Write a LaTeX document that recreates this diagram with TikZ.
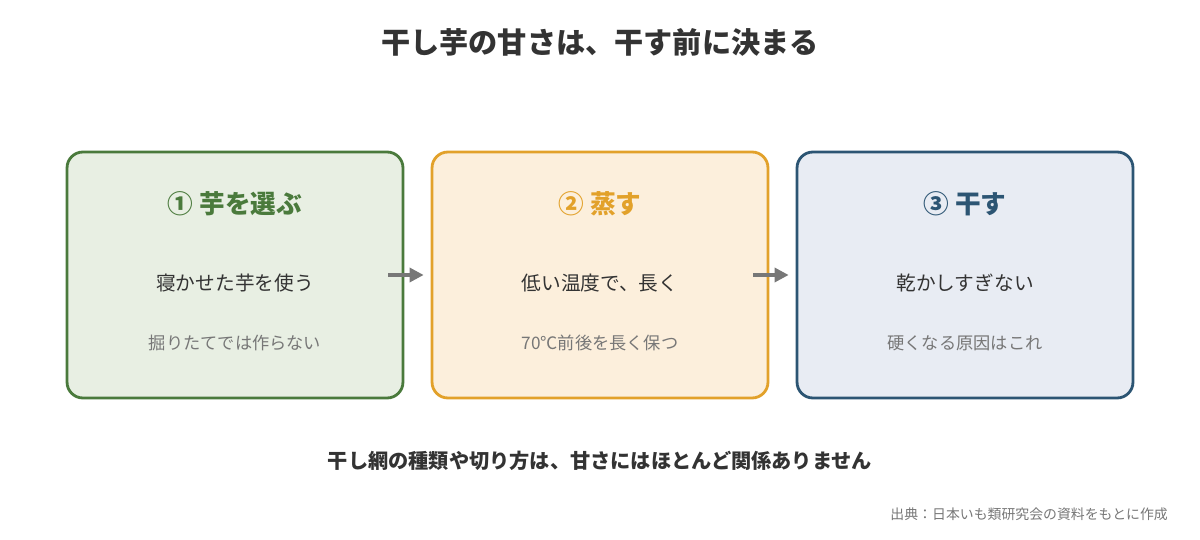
\documentclass[tikz,border=0pt]{standalone}
\usepackage{fontspec}
\setmainfont{Noto Sans CJK JP}
\usetikzlibrary{positioning,arrows.meta}
\definecolor{txt}{HTML}{333333}
\definecolor{subtxt}{HTML}{777777}
\definecolor{grn}{HTML}{4A7A3C}
\definecolor{grnbg}{HTML}{E8EFE3}
\definecolor{org}{HTML}{E2A12A}
\definecolor{orgbg}{HTML}{FCEFDC}
\definecolor{blu}{HTML}{2C5573}
\definecolor{blubg}{HTML}{E8ECF3}
\definecolor{arrgray}{HTML}{777777}
\begin{document}
\begin{tikzpicture}[x=0.02cm,y=-0.02cm,
    stepbox/.style={draw, line width=1.6pt, rounded corners=9pt, minimum width=6.72cm, minimum height=4.92cm},
    head/.style={font=\fontsize{14.6}{18}\selectfont\bfseries},
    main/.style={font=\fontsize{11.2}{14}\selectfont, text=txt},
    sub/.style={font=\fontsize{9.8}{12}\selectfont, text=subtxt},
    arr/.style={draw=arrgray, line width=1.9pt, -{Triangle[length=8pt,width=8pt]}, shorten <=-0.32cm, shorten >=0.14cm}]
    \useasboundingbox (0,0) rectangle (1200,540);
    \node[font=\fontsize{16.6}{20}\selectfont\bfseries, text=txt] (title) at (600,42) {干し芋の甘さは、干す前に決まる};
    % three steps
    \node[stepbox, draw=grn, fill=grnbg] (b1) at (235,275) {};
    \node[stepbox, draw=org, fill=orgbg] (b2) at (600,275) {};
    \node[stepbox, draw=blu, fill=blubg] (b3) at (965,275) {};
    \node[head, text=grn] (h1) at (235,204) {① 芋を選ぶ};
    \node[head, text=org] (h2) at (600,204) {② 蒸す};
    \node[head, text=blu] (h3) at (965,204) {③ 干す};
    \node[main] (m1) at (235,283) {寝かせた芋を使う};
    \node[main] (m2) at (600,283) {低い温度で、長く};
    \node[main] (m3) at (965,283) {乾かしすぎない};
    \node[sub] (s1) at (235,343) {掘りたてでは作らない};
    \node[sub] (s2) at (600,343) {70℃前後を長く保つ};
    \node[sub] (s3) at (965,343) {硬くなる原因はこれ};
    \draw[arr] (b1.east) -- (b2.west);
    \draw[arr] (b2.east) -- (b3.west);
    \node[font=\fontsize{11.5}{14}\selectfont\bfseries, text=txt] (note) at (600,461) {干し網の種類や切り方は、甘さにはほとんど関係ありません};
    \node[font=\fontsize{7.9}{10}\selectfont, text=subtxt, anchor=east] (src) at (1174,514) {出典：日本いも類研究会の資料をもとに作成};
\end{tikzpicture}
\end{document}
